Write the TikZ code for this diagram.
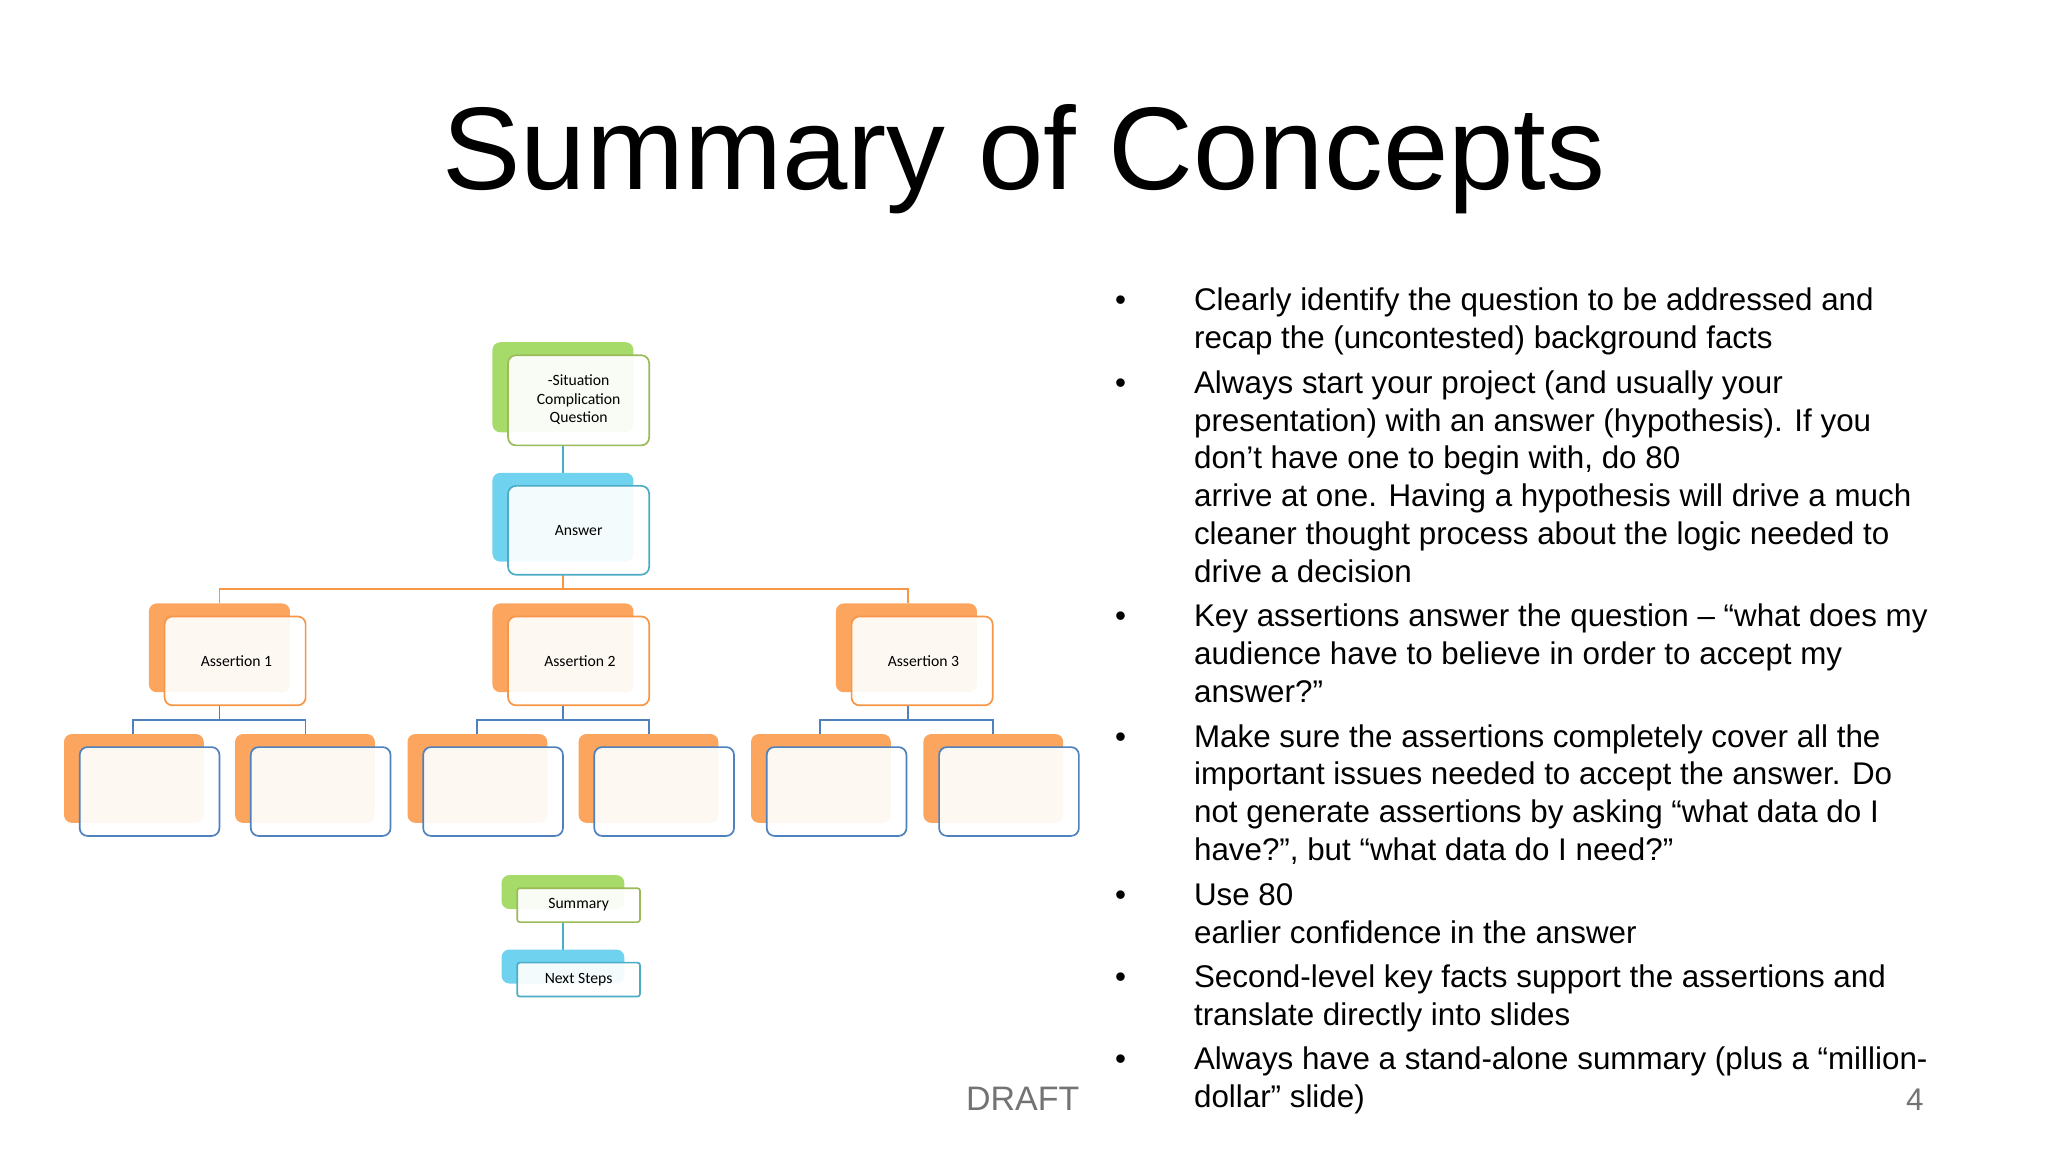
\documentclass[tikz,border=0pt]{standalone}
\usepackage{fontspec}
\setmainfont{Liberation Sans}
\newfontfamily\boxfont{Carlito}
\begin{document}
\begin{tikzpicture}[x=1pt,y=-1pt,
  front/.style={draw=#1,line width=1.3pt,rounded corners=6pt,fill=white,fill opacity=0.93},
  back/.style={rounded corners=6pt,fill=#1},
  btxt/.style={font=\boxfont\fontsize{12}{14}\selectfont,align=center},
  bl/.style={anchor=base west,font=\fontsize{24}{29}\selectfont,inner sep=0pt},
  dot/.style={anchor=base,font=\fontsize{24}{29}\selectfont,inner sep=0pt}]
\useasboundingbox (0,0) rectangle (1568,882);
\definecolor{gB}{HTML}{9BBB59}\definecolor{gF}{HTML}{A6DB6A}
\definecolor{cB}{HTML}{4BACC6}\definecolor{cF}{HTML}{6FD3EF}
\definecolor{oB}{HTML}{F79646}\definecolor{oF}{HTML}{FBA55F}
\definecolor{lB}{HTML}{4F81BD}
\node[font=\fontsize{90}{100}\selectfont,anchor=base] (title) at (784,145) {Summary of Concepts};
% connectors
\draw[cB,line width=1.3pt] (431,341) -- (431,362);
\draw[oB,line width=1.3pt] (431,440) -- (431,451) (168,462) -- (168,451) -- (695,451) -- (695,462);
\foreach \c/\a/\b in {168/102/234,431/365/497,695/628/760}
  \draw[lB,line width=1.3pt] (\c,540) -- (\c,551) (\a,562) -- (\a,551) -- (\b,551) -- (\b,562);
\draw[cB,line width=1.3pt] (431,706) -- (431,727);
% SCQ
\fill[back=gF] (377,262) rectangle (485,331);
\draw[front=gB] (389,272) rectangle (497,341);
\node[btxt] (scq) at (443,306) {-Situation\\Complication\\Question};
\fill[back=cF] (377,362) rectangle (485,430);
\draw[front=cB] (389,372) rectangle (497,440);
\node[btxt] (ans) at (443,406) {Answer};
\foreach \x/\t in {126/Assertion 1,389/Assertion 2,652/Assertion 3}{
  \fill[back=oF] (\x-12,462) rectangle (\x+96,530);
  \draw[front=oB] (\x,472) rectangle (\x+108,540);
  \node[btxt] (as\x) at (\x+55,506) {\t};}
\foreach \x in {61,192,324,455,587,719}{
  \fill[back=oF] (\x-12,562) rectangle (\x+95,630);
  \draw[front=lB] (\x,572) rectangle (\x+107,640);}
\fill[back=gF] (384,670) rectangle (478,696);
\draw[front=gB,rounded corners=2pt] (396,680) rectangle (490,706);
\node[btxt] (sum) at (443,693) {Summary};
\fill[back=cF] (384,727) rectangle (478,753);
\draw[front=cB,rounded corners=2pt] (396,737) rectangle (490,763);
\node[btxt] (ns) at (443,750) {Next Steps};
% bullets
\foreach \y in {238,301,480,572,693,756,819} \node[dot] at (858,\y) {•};
\foreach \y/\t in {238/Clearly identify the question to be addressed and,
267/recap the (uncontested) background facts,
301/Always start your project (and usually your,
330/presentation) with an answer (hypothesis). If you,
359/don’t have one to begin with{,} do 80/20 analysis to,
388/arrive at one. Having a hypothesis will drive a much,
417/cleaner thought process about the logic needed to,
446/drive a decision,
480/Key assertions answer the question – “what does my,
509/audience have to believe in order to accept my,
538/answer?”,
572/Make sure the assertions completely cover all the,
601/important issues needed to accept the answer. Do,
630/not generate assertions by asking “what data do I,
659/have?”{,} but “what data do I need?”,
693/Use 80/20 to prioritize assertions and to generate,
722/earlier confidence in the answer,
756/Second-level key facts support the assertions and,
785/translate directly into slides,
819/Always have a stand-alone summary (plus a “million-,
848/dollar” slide)}
  \node[bl] at (914,\y) {\t};
\node[anchor=base,font=\fontsize{26}{30}\selectfont,text=black!55] (draft) at (783,850) {DRAFT};
\node[anchor=base,font=\fontsize{24}{28}\selectfont,text=black!55] (pg) at (1466,850) {4};
\end{tikzpicture}
\end{document}
